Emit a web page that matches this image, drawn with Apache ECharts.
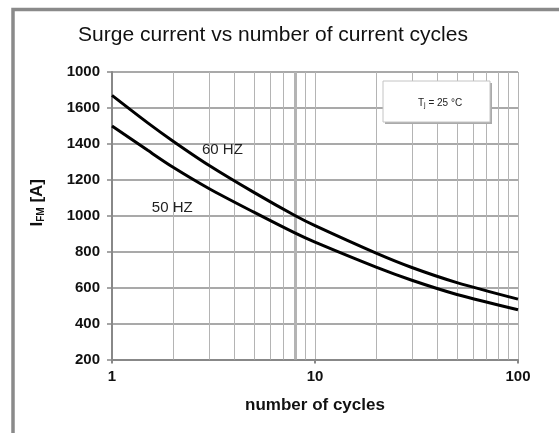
<!DOCTYPE html>
<html>
<head>
<meta charset="utf-8">
<script src="https://cdn.jsdelivr.net/npm/echarts@6/dist/echarts.min.js"></script>
<style>
  html, body { margin: 0; padding: 0; background: #fff; }
  #chart { width: 559px; height: 433px; }
</style>
</head>
<body>
<div id="chart"></div>
<script>
// number of cycles (log axis) and the two curves read from the sheet
var cycles = [1, 1.5, 2, 3, 5, 8, 10, 20, 30, 50, 100];
var hz60 = [1670, 1517, 1415, 1281, 1130, 1000, 945, 792, 712, 628, 536];
var hz50 = [1500, 1364, 1270, 1152, 1020, 903, 853, 714, 641, 562, 477];

// y tick labels as printed (top one reads 1000 on the original)
var yTickLabels = ['200', '400', '600', '800', '1000', '1200', '1400', '1600', '1000'];
var xTickLabels = { 1: '1', 10: '10', 100: '100' };

// minor vertical grid lines of the log axis
var minorGrid = [2, 3, 4, 5, 6, 7, 9, 20, 30, 40, 50, 60, 70, 80, 90];
var thickGrid = [8];

// curve labels (data coords)
var curveLabels = [
    { name: '60 HZ', x: 3.5, y: 1366 },
    { name: '50 HZ', x: 1.98, y: 1043 }
];

function pairs(xs, ys) {
    return xs.map(function (x, i) { return [x, ys[i]]; });
}

var chart = echarts.init(document.getElementById('chart'));

var font = '"Liberation Sans", Arial, sans-serif';

var option = {
    animation: false,
    backgroundColor: '#fff',
    title: {
        text: 'Surge current vs number of current cycles',
        left: 273,
        textAlign: 'center',
        top: 25,
        padding: 0,
        textStyle: { fontFamily: font, fontSize: 21, fontWeight: 'normal', color: '#111' }
    },
    grid: { left: 112, right: 41, top: 72, bottom: 73.5, containLabel: false },
    xAxis: {
        type: 'log',
        logBase: 10,
        min: 1,
        max: 100,
        name: 'number of cycles',
        nameLocation: 'middle',
        nameGap: 37,
        nameTextStyle: { fontFamily: font, fontSize: 17, fontWeight: 'bold', color: '#111' },
        axisLine: { lineStyle: { color: '#888', width: 2 } },
        axisTick: { show: true, length: 4, lineStyle: { color: '#888', width: 2 } },
        axisLabel: {
            margin: 10,
            fontFamily: font, fontSize: 15, fontWeight: 'bold', color: '#111',
            formatter: function (v) { return xTickLabels[Math.round(v)] || ''; }
        },
        splitLine: { show: true, lineStyle: { color: '#b4b4b4', width: 1 } },
        minorTick: { show: false },
        minorSplitLine: { show: false }
    },
    yAxis: {
        type: 'value',
        min: 200,
        max: 1800,
        interval: 200,
        name: '{i|I}{s|FM}{i| [A]}',
        nameLocation: 'middle',
        nameRotate: 90,
        nameGap: 66,
        nameTextStyle: {
            padding: [0, 0, 0, 26],
            rich: {
                i: { fontFamily: font, fontSize: 17, fontWeight: 'bold', color: '#111' },
                s: { fontFamily: font, fontSize: 10, fontWeight: 'bold', color: '#111', verticalAlign: 'bottom', padding: [6, 0, 0, 0] }
            }
        },
        axisLine: { show: true, lineStyle: { color: '#888', width: 2 } },
        axisTick: { show: true, length: 5, lineStyle: { color: '#888', width: 1.5 } },
        axisLabel: {
            margin: 12,
            fontFamily: font, fontSize: 15, fontWeight: 'bold', color: '#111',
            formatter: function (v) { return yTickLabels[Math.round((v - 200) / 200)]; }
        },
        splitLine: { show: true, lineStyle: { color: '#8c8c8c', width: 1.5 } }
    },
    series: [
        {
            // vertical grid lines between the decades
            type: 'line',
            data: [],
            silent: true,
            markLine: {
                silent: true,
                symbol: 'none',
                label: { show: false },
                lineStyle: { type: 'solid', color: '#b4b4b4', width: 1 },
                data: minorGrid.map(function (v) { return { xAxis: v }; })
                    .concat(thickGrid.map(function (v) {
                        return { xAxis: v, lineStyle: { color: '#b4b4b4', width: 3 } };
                    }))
            },
            z: 1
        },
        {
            name: '60 HZ',
            type: 'line',
            data: pairs(cycles, hz60),
            smooth: 0.3,
            symbol: 'none',
            lineStyle: { color: '#000', width: 3 },
            z: 5
        },
        {
            name: '50 HZ',
            type: 'line',
            data: pairs(cycles, hz50),
            smooth: 0.3,
            symbol: 'none',
            lineStyle: { color: '#000', width: 3 },
            markPoint: {
                symbol: 'circle',
                symbolSize: 0,
                silent: true,
                label: {
                    show: true,
                    position: 'inside',
                    fontFamily: font, fontSize: 15, color: '#222',
                    formatter: function (p) { return p.name; }
                },
                data: curveLabels.map(function (c) { return { name: c.name, coord: [c.x, c.y] }; })
            },
            z: 5
        }
    ],
    graphic: [
        {
            // outer frame
            type: 'rect',
            shape: { x: 13, y: 9.5, width: 700, height: 600 },
            style: { fill: 'none', stroke: '#8a8a8a', lineWidth: 3.5 },
            silent: true,
            z: 0
        },
        {
            // Tj box shadow
            type: 'rect',
            shape: { x: 385, y: 83, width: 107, height: 41 },
            style: { fill: '#aaa' },
            silent: true,
            z: 10
        },
        {
            type: 'rect',
            shape: { x: 383, y: 81, width: 107, height: 41 },
            style: { fill: '#fff', stroke: '#c4c4c4', lineWidth: 1 },
            silent: true,
            z: 11
        },
        {
            type: 'text',
            x: 418,
            y: 103,
            style: {
                text: '{t|T}{j|j}{t| = 25 °C}',
                verticalAlign: 'middle',
                rich: {
                    t: { fontFamily: font, fontSize: 10, fill: '#222' },
                    j: { fontFamily: font, fontSize: 7, fill: '#222', padding: [5, 0, 0, 0] }
                }
            },
            silent: true,
            z: 12
        }
    ]
};

chart.setOption(option);
</script>
</body>
</html>
